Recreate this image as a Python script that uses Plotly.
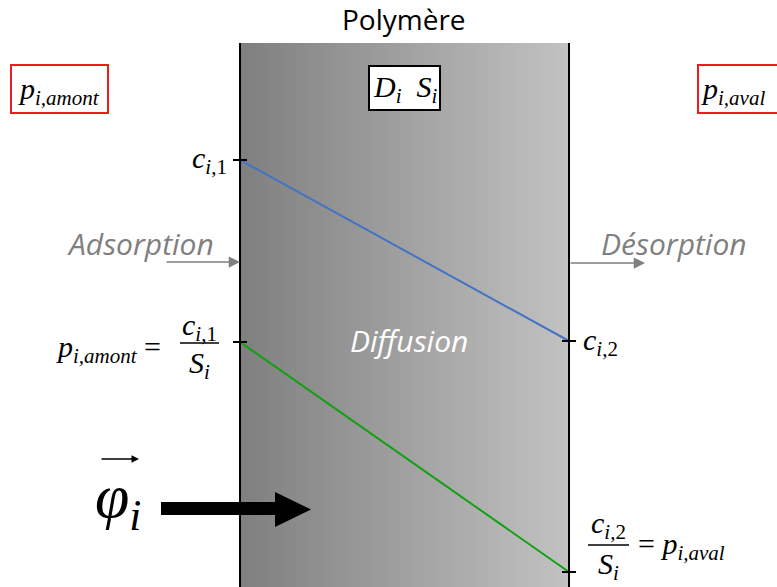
import numpy as np
import plotly.graph_objects as go

# ---------------- data ----------------
membrane_pos = [0.0, 1.0]          # normalised position across the membrane
conc_c = [4.27, 2.46]              # concentration profile c_i,1 -> c_i,2
conc_p = [2.45, 0.15]              # equivalent pressure profile p_i,amont -> p_i,aval
side_labels = ["Adsorption", "Désorption"]
center_label = "Diffusion"
title_text = "Polymère"

# ---------------- layout helpers (pixel -> data) ----------------
W, H = 777, 587
L_PX, R_PX = 240, 569
def X(px):
    return (px - L_PX) / (R_PX - L_PX)
def Y(py):
    return (H - py) / 100.0

TOP = Y(43)
SERIF = "Liberation Serif"
SANS = "Open Sans"

fig = go.Figure()

# gradient membrane
edges = np.linspace(0, 1, 201)
mids = (edges[:-1] + edges[1:]) / 2
fig.add_trace(go.Heatmap(x=edges, y=[0, TOP], z=[mids], showscale=False,
                         colorscale=[[0, "#7f7f7f"], [1, "#c2c2c2"]],
                         zmin=0, zmax=1, hoverinfo="skip"))

fig.add_trace(go.Scatter(x=membrane_pos, y=conc_c, mode="lines",
                         line=dict(color="#4472c4", width=2), hoverinfo="skip"))
fig.add_trace(go.Scatter(x=membrane_pos, y=conc_p, mode="lines",
                         line=dict(color="#12a012", width=2), hoverinfo="skip"))

shapes = []
# membrane borders
for xv in membrane_pos:
    shapes.append(dict(type="line", x0=xv, x1=xv, y0=0, y1=TOP,
                       line=dict(color="black", width=2)))
# ticks
tick_half = X(247) - X(240)
for xv, yv in [(membrane_pos[0], conc_c[0]), (membrane_pos[0], conc_p[0]),
               (membrane_pos[1], conc_c[1]), (membrane_pos[1], conc_p[1])]:
    shapes.append(dict(type="line", x0=xv - tick_half, x1=xv + tick_half, y0=yv, y1=yv,
                       line=dict(color="black", width=2)))
# boxes
shapes.append(dict(type="rect", x0=X(11), x1=X(108), y0=Y(65), y1=Y(113),
                   line=dict(color="#ee1c1c", width=2), fillcolor="white"))
shapes.append(dict(type="rect", x0=X(698), x1=X(790), y0=Y(65), y1=Y(113),
                   line=dict(color="#ee1c1c", width=2), fillcolor="white"))
shapes.append(dict(type="rect", x0=X(369), x1=X(440), y0=Y(66), y1=Y(110),
                   line=dict(color="black", width=2), fillcolor="white"))
# fraction bars
shapes.append(dict(type="line", x0=X(180), x1=X(219), y0=Y(343), y1=Y(343),
                   line=dict(color="black", width=1.5)))
shapes.append(dict(type="line", x0=X(588), x1=X(629), y0=Y(545), y1=Y(545),
                   line=dict(color="black", width=1.5)))
# thick flux arrow
pts = [(161, 502), (275, 502), (275, 492), (311, 509.5), (275, 527), (275, 515), (161, 515)]
path = "M " + " L ".join(f"{X(a)},{Y(b)}" for a, b in pts) + " Z"
shapes.append(dict(type="path", path=path, fillcolor="black", line=dict(color="black", width=0)))

ann = []
def txt(px, py, text, size, color="black", family=SERIF, xanchor="center", yanchor="middle"):
    ann.append(dict(x=X(px), y=Y(py), text=text, showarrow=False, xanchor=xanchor,
                    yanchor=yanchor, font=dict(size=size, color=color, family=family)))

txt(404, 19, title_text, 28, family=SANS)
txt(59, 91, "<i>p</i><sub><i>i,amont</i></sub>", 30)
txt(699, 91, "<i>p</i><sub><i>i,aval</i></sub>", 30, xanchor="left")
txt(405, 89, "<i>D</i><sub><i>i</i></sub>  <i>S</i><sub><i>i</i></sub>", 30)
txt(229, 160, "<i>c</i><sub><i>i</i>,1</sub>", 30, xanchor="right")
txt(581, 342, "<i>c</i><sub><i>i</i>,2</sub>", 30, xanchor="left")
txt(140, 243, "<i>" + side_labels[0] + "</i>", 30, color="#7f7f7f", family=SANS)
txt(674, 243, "<i>" + side_labels[1] + "</i>", 30, color="#7f7f7f", family=SANS)
txt(409, 340, "<i>" + center_label + "</i>", 30, color="white", family=SANS)
# left equation
txt(163, 349, "<i>p</i><sub><i>i,amont</i></sub> =", 30, xanchor="right")
txt(199, 327, "<i>c</i><sub><i>i</i>,1</sub>", 30)
txt(199, 365, "<i>S</i><sub><i>i</i></sub>", 30)
# right equation
txt(608, 525, "<i>c</i><sub><i>i</i>,2</sub>", 30)
txt(608, 566, "<i>S</i><sub><i>i</i></sub>", 30)
txt(636, 546, "= <i>p</i><sub><i>i,aval</i></sub>", 30, xanchor="left")
# flux symbol
txt(118, 500, "<i>φ</i><sub><i>i</i></sub>", 62)

def arrow(x0, x1, py, color, width, head, size):
    ann.append(dict(x=X(x1), y=Y(py), ax=X(x0), ay=Y(py), axref="x", ayref="y",
                    xref="x", yref="y", text="", showarrow=True, arrowhead=head,
                    arrowsize=size, arrowwidth=width, arrowcolor=color))
arrow(165, 240, 262, "#7f7f7f", 1.5, 2, 1.5)
arrow(569, 645, 263, "#7f7f7f", 1.5, 2, 1.5)
arrow(100, 139, 459, "black", 1.5, 2, 1.0)

fig.update_layout(
    width=W, height=H, margin=dict(l=0, r=0, t=0, b=0),
    paper_bgcolor="white", plot_bgcolor="white", showlegend=False,
    xaxis=dict(range=[X(0), X(W)], visible=False, fixedrange=True),
    yaxis=dict(range=[0, H / 100.0], visible=False, fixedrange=True),
    shapes=shapes, annotations=ann,
)
fig.write_html("out.html", config={"displayModeBar": False},
               post_script="document.body.style.margin='0';")
